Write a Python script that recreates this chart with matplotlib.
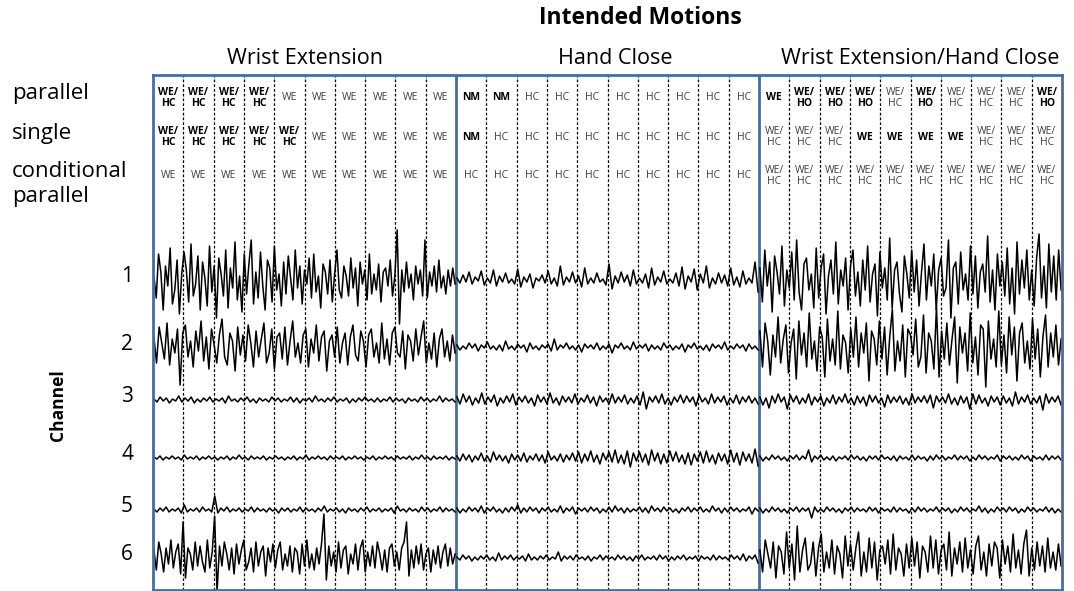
import numpy as np
import matplotlib.pyplot as plt

plt.rcParams["font.family"] = ["Open Sans", "DejaVu Sans"]

# Intended motion for each block of 10 windows
MOTIONS = ["WE", "HC", "WE/HC"]
MOTION_TITLES = ["Wrist Extension", "Hand Close", "Wrist Extension/Hand Close"]

# Decisions of each classifier, one per window (30 windows)
PARALLEL = ["WE/HC", "WE/HC", "WE/HC", "WE/HC", "WE", "WE", "WE", "WE", "WE", "WE",
            "NM", "NM", "HC", "HC", "HC", "HC", "HC", "HC", "HC", "HC",
            "WE", "WE/HO", "WE/HO", "WE/HO", "WE/HC", "WE/HO", "WE/HC", "WE/HC", "WE/HC", "WE/HO"]
SINGLE = ["WE/HC", "WE/HC", "WE/HC", "WE/HC", "WE/HC", "WE", "WE", "WE", "WE", "WE",
          "NM", "HC", "HC", "HC", "HC", "HC", "HC", "HC", "HC", "HC",
          "WE/HC", "WE/HC", "WE/HC", "WE", "WE", "WE", "WE", "WE/HC", "WE/HC", "WE/HC"]
COND_PARALLEL = ["WE", "WE", "WE", "WE", "WE", "WE", "WE", "WE", "WE", "WE",
                 "HC", "HC", "HC", "HC", "HC", "HC", "HC", "HC", "HC", "HC",
                 "WE/HC", "WE/HC", "WE/HC", "WE/HC", "WE/HC", "WE/HC", "WE/HC", "WE/HC", "WE/HC", "WE/HC"]
CLASSIFIERS = ["parallel", "single", "conditional\nparallel"]

# EMG traces (arbitrary units), one list per channel and motion
CH1_WE = [4, -18, 26, 8, -30, 14, -6, 32, -24, -10, 20, -34, 6, 28, 10, -22, 36, -16, -4, 24, -30, 18, 2, -26, 34,
          -12, 14, -38, 22, 6, -16, 30, -28, 12, -8, 38, -20, 4, -32, 26, -14, 16, 40, -24, 8, -18, 28, -6, -30, 20,
          12, -22, 34, -10, 6, -26, 18, -14, 24, 2, -20, 30, -8, 14, -24, 10, -4, 22, -18, 26, -12, 4, -28, 16, 8,
          -14, 20, -22, 6, 30, -10, -18, 14, 4, -16, 22, -8, 12, -26, 18, -4, 10, -20, 26, -14, 6, -10, 16, -22, 8,
          12, -6, 20, -16, 4, 50, -44, 10, -12, 18, -8, 6, -20, 14, -4, 10, -16, 40, -18, 8, -6, 14, -12, 20, -8,
          4, -14, 10, -6, 12, -4]
CH1_HC = [2, -3, 5, -2, 8, -4, 3, -1, 9, -5, 2, -3, 10, -6, 4, -2, 7, -3, 1, -4, 11, -7, 3, -2, 6, -8, 2, -1, 5, -3,
          9, -4, 2, -6, 14, -5, 3, -2, 8, -3, 4, -7, 12, -4, 2, -3, 7, -2, 1, -5, 16, -9, 4, -3, 8, -2, 5, -6, 10, -4,
          2, -3, 6, -8, 12, -5, 3, -2, 9, -4, 1, -3, 7, -6, 13, -9, 4, -2, 11, -10, 6, -3, 14, -8, 2, -4, 7, -3, 5, -6,
          12, -5, 3, -7, 9, -4, 2, -3, 18, -12]
CH1_WEHC = [12, -22, 30, -6, 18, -32, 24, 8, -14, 34, -26, 10, -8, 28, -20, 40, -12, -30, 16, 22, -10, 6, -28, 32, -18,
            12, 26, -34, 4, 20, -14, 38, -24, 10, -6, 22, -30, 14, 30, -16, 8, -26, 20, -10, 34, -22, 6, 16, -36, 28,
            -8, 12, -20, 42, -28, 10, 18, -14, -32, 24, 6, -18, 30, -12, 20, -26, 8, 36, -20, 14, -6, 26, -30, 10, 22,
            -16, -8, 40, -38, 12, 18, -24, 28, -10, 6, -20, 34, -14, 24, -28, 8, 16, -12, 44, -22, 10, -30, 26, -6, 18,
            -16, 32, -24, 12, -34, 38, -14, 20, -8, 30, -20, 10, -26, 22, 46, -18, 14, -28, 36, -12, 24, -20, 30, -10]
CH2_WE = [10, -16, 20, 4, -12, 24, -18, 8, -6, 18, -38, 14, 22, -10, 6, -20, 16, -4, 26, -14, 10, -22, 18, 2, -16,
          12, 28, -10, -18, 14, 6, -24, 20, -8, 12, -14, 22, 4, -20, 16, -10, 8, 24, -16, -6, 18, -22, 10, 14, -12,
          20, -18, 6, 26, -10, 4, -16, 12, 18, -20, 8, -6, 22, -14, 10, 16, -24, 6, 12, -10, 20, -16, 4, 14, -18,
          10, 22, -8, -14, 16, 6, -20, 12, 18, -10, 4, -16, 24, -12, 8, -18, 14, 20, -6, -10, 16, -22, 12, 6, -14,
          18, -8, 10, 26, -16, 4, -12, 14, -20, 8, 18, -10, 6, -14, 12, -6]
CH2_HC = [2, -3, 1, -2, 4, -1, 3, -4, 2, -1, 5, -2, 1, -3, 2, -4, 6, -2, 1, -3, 3, -1, 2, -5, 4, -2, 1, -3, 2, -1,
          3, -4, 8, -3, 2, -1, 4, -2, 1, -3, 2, -5, 3, -1, 2, -2, 4, -3, 1, -2, 3, -6, 2, -1, 4, -2, 1, -3, 5, -2,
          2, -1, 3, -4, 2, -2, 1, -3, 4, -1, 2, -3, 1, -2, 3, -5, 2, -1, 4, -2, 1, -3, 2, -4, 3, -1, 2, -2, 5, -3,
          1, -2, 3, -1, 2, -4, 3, -2, 1, -3]
CH2_WEHC = [16, -20, 24, 6, -28, 12, -10, 30, -16, 8, 22, -26, 4, 18, -32, 26, -8, 14, -20, 34, -12, 6, -24, 20, 10,
            -30, 28, -14, 8, -18, 36, -22, 12, 4, -26, 18, -10, 30, -20, 14, -6, 24, -34, 16, 8, -18, 26, -12, 20, -28,
            10, 38, -24, 6, -14, 22, -30, 18, 12, -8, 28, -20, -10, 32, -26, 14, 6, -22, 40, -30, 16, -12, 24, -18, 8,
            30, -36, 20, -6, 14, -24, 34, -16, 10, -28, 22, 18, -40, 26, -12, 8, -20, 36, -18, 12, -26, 30, -8, 20, -34,
            14, 24, -16, 6, -22, 28, -12, 18, -30, 10, 32, -20, 14, -10, 22, -18, 8]
CH3_WE = [1, -2, 3, -1, 2, -3, 1, -1, 4, -2, 2, -1, 3, -3, 1, -2, 2, -1, 3, -2, 1, -1, 2, -3, 4, -1, 1, -2, 2, -1,
          3, -2, 1, -3, 2, -1, 1, -2, 3, -1, 2, -2, 1, -1, 3, -2, 2, -3, 1, -1, 2, -2, 4, -1, 1, -2, 2, -1, 3, -2,
          1, -1, 2, -3, 1, -2, 2, -1, 3, -1, 1, -2, 2, -2, 1, -1, 3, -2, 2, -1, 1, -3, 2, -1, 1, -2, 3, -1, 2, -2,
          1, -1, 4, -2, 2, -1, 1, -2]
CH3_HC = [3, -4, 6, -2, 4, -5, 2, -3, 7, -4, 3, -2, 5, -6, 2, -3, 4, -2, 6, -5, 3, -2, 4, -3, 2, -6, 5, -2, 3, -4,
          7, -3, 2, -5, 4, -2, 3, -3, 6, -4, 2, -2, 5, -3, 3, -6, 4, -2, 2, -4, 6, -3, 3, -2, 5, -4, 2, -3, 4, -5,
          8, -9, 3, -2, 4, -3, 6, -4, 2, -5, 3, -2, 5, -3, 4, -2, 3, -6, 5, -2, 2, -4, 6, -3, 3, -2, 4, -5, 2, -3,
          5, -4, 3, -2, 4, -3, 2, -4]
CH3_WEHC = [3, -5, 2, -8, 4, -3, 6, -2, 3, -9, 5, -2, 4, -4, 2, -3, 6, -5, 3, -2, 4, -6, 2, -3, 5, -4, 3, -2, 6, -3,
            2, -5, 4, -3, 3, -6, 5, -2, 4, -3, 2, -7, 5, -3, 3, -2, 4, -4, 2, -5, 6, -3, 3, -2, 4, -3, 5, -8, 4, -2,
            3, -3, 6, -4, 2, -5, 4, -3, 3, -9, 6, -4, 5, -3, 2, -6, 4, -2, 3, -5, 4, -3, 2, -6, 8, -4, 3, -2, 5, -4,
            2, -3, 4, -10, 6, -3, 3, -2, 4, -5]
CH4_WE = [1, -1, 2, -2, 1, -1, 2, -1, 1, -2, 3, -1, 1, -1, 2, -2, 1, -1, 2, -1, 1, -2, 1, -1, 2, -2, 1, -1, 3, -1,
          1, -2, 2, -1, 1, -1, 2, -2, 1, -1, 2, -1, 1, -2, 1, -1, 2, -2, 1, -1, 3, -2, 1, -1, 2, -1, 1, -2, 2, -1,
          1, -1, 2, -2, 1, -1, 2, -1, 1, -2, 1, -1, 2, -2, 1, -1, 2, -1, 1, -2, 2, -1, 1, -1, 2, -2, 1, -1, 3, -1,
          1, -2, 2, -1, 1, -1, 2, -2, 1, -1]
CH4_HC = [2, -3, 4, -2, 3, -4, 2, -2, 5, -3, 2, -4, 6, -2, 3, -3, 2, -5, 4, -2, 3, -3, 5, -4, 2, -2, 4, -3, 3, -5,
          6, -2, 2, -3, 4, -4, 3, -2, 5, -3, 6, -5, 4, -3, 7, -4, 3, -6, 5, -2, 6, -4, 8, -5, 3, -6, 7, -9, 5, -3,
          6, -4, 4, -7, 8, -3, 5, -6, 4, -5, 7, -3, 6, -4, 3, -6, 5, -7, 4, -3, 6, -5, 7, -4, 3, -6, 5, -3, 4, -6,
          8, -4, 5, -7, 6, -3, 4, -5, 9, -8]
CH4_WEHC = [2, -3, 1, -2, 3, -1, 2, -2, 1, -3, 2, -1, 3, -2, 2, -1, 8, -4, 2, -1, 3, -2, 1, -2, 2, -3, 1, -1, 2, -2,
            3, -1, 2, -2, 1, -3, 2, -1, 2, -2, 3, -1, 1, -2, 2, -3, 2, -1, 1, -2, 3, -2, 2, -1, 1, -3, 2, -2, 3, -1,
            2, -2, 1, -1, 3, -2, 2, -1, 2, -3, 1, -2, 3, -1, 2, -2, 1, -1, 3, -3, 2, -1, 2, -2, 1, -2, 3, -1, 2, -3,
            2, -1, 1, -2, 3, -2, 2, -1, 2, -2]
CH5_WE = [1, -2, 2, -1, 3, -2, 1, -1, 2, -3, 5, -2, 1, -1, 2, -2, 3, -1, 1, -2, 14, -3, 2, -1, 3, -2, 1, -1, 2, -2,
          1, -1, 3, -2, 2, -1, 1, -2, 2, -1, 1, -3, 2, -1, 2, -2, 1, -1, 3, -2, 2, -1, 1, -2, 2, -1, 4, -2, 1, -1,
          2, -2, 1, -3, 2, -1, 1, -2, 2, -1, 3, -2, 1, -1, 2, -2, 1, -1, 2, -3, 4, -1, 1, -2, 2, -1, 1, -2, 3, -1,
          2, -2, 1, -1, 3, -2, 2, -1, 1, -2]
CH5_HC = [2, -3, 1, -2, 3, -1, 2, -2, 4, -3, 2, -1, 3, -2, 1, -3, 2, -2, 3, -1, 5, -3, 2, -2, 3, -1, 2, -3, 2, -1,
          3, -2, 1, -2, 4, -3, 2, -1, 3, -4, 2, -1, 2, -2, 3, -1, 2, -3, 1, -2, 3, -2, 4, -1, 2, -3, 2, -2, 1, -1,
          3, -2, 2, -3, 4, -1, 2, -2, 3, -1, 2, -2, 1, -3, 2, -1, 3, -2, 2, -1, 3, -2, 1, -2, 4, -1, 2, -3, 2, -2,
          3, -1, 2, -2, 1, -1, 3, -4, 2, -1]
CH5_WEHC = [2, -3, 1, -2, 3, -1, 2, -2, 1, -3, 2, -1, 3, -2, 2, -1, 2, -8, 3, -2, 1, -2, 3, -1, 2, -2, 1, -3, 2, -1,
            3, -2, 2, -1, 1, -2, 3, -1, 2, -3, 2, -1, 1, -2, 3, -2, 2, -1, 1, -3, 2, -2, 3, -1, 2, -2, 1, -1, 3, -2,
            2, -1, 2, -3, 1, -2, 3, -1, 2, -2, 1, -1, 4, -2, 2, -3, 1, -2, 3, -1, 2, -2, 3, -1, 2, -3, 1, -2, 3, -1,
            2, -2, 1, -1, 3, -2, 2, -3, 1, -2]
CH6_WE = [8, -12, 16, 4, -14, 10, -6, 18, -10, 6, 14, -16, 36, -20, 10, 4, -12, 16, -8, 12, -4, -14, 18, -10, 6,
          42, -34, 12, -8, 16, 4, -12, 10, -16, 14, -6, 8, 18, -12, -4, 10, -14, 16, -8, 6, 12, -18, 10, -4, 14,
          -10, 8, 16, -12, 4, -8, 12, -14, 10, 6, -16, 14, -8, 18, -10, 4, -12, 10, -6, 14, 44, -22, 12, -8, 6,
          -14, 16, -10, 8, 12, -16, 4, -6, 14, -12, 10, 18, -14, 6, -8, 12, -10, 16, 4, -12, 8, -14, 10, 14, -8,
          6, -12, 10, 16, 36, -18, 8, -10, 12, -6, 14, -12, 4, 10, -14, 8, -6, 12, -10, 6, 14, -8, 10, -6, 4]
CH6_HC = [1, -2, 3, -1, 2, -3, 1, -2, 2, -1, 3, -2, 1, -3, 5, -2, 2, -1, 3, -2, 1, -1, 2, -3, 4, -2, 1, -2, 2, -1,
          3, -2, 1, -1, 6, -3, 2, -1, 2, -2, 3, -1, 1, -2, 2, -3, 1, -1, 3, -2, 2, -1, 1, -2, 3, -1, 2, -2, 1, -3,
          2, -1, 3, -2, 1, -1, 2, -2, 3, -1, 2, -3, 1, -2, 2, -1, 3, -2, 1, -1, 2, -3, 2, -1, 1, -2, 3, -2, 2, -1,
          1, -2, 3, -1, 2, -2, 4, -3, 2, -1, 3, -5]
CH6_WEHC = [8, -14, 18, 4, -10, 16, -20, 12, 6, -16, 26, -10, 14, -22, 32, -14, 8, 20, -12, -6, 16, -18, 10, 24, -14,
            6, -10, 18, -16, 12, 4, -20, 22, -8, 14, -12, 10, 26, -18, 6, -14, 20, -10, 16, -22, 8, 12, -6, 18, -16,
            24, -12, 10, 4, -18, 14, -10, 20, -8, 16, -20, 12, 6, -14, 22, -10, 18, -16, 8, 14, -12, 26, -18, 10, -6,
            16, -14, 20, -10, 8, -16, 12, 22, -12, 6, -18, 14, -8, 16, 10, -20, 18, -6, 12, -14, 24, -10, 8, -16, 14,
            28, -18, 10, -12, 16, -8, 12, -14, 20, -10, 6, -12, 14, -8]

CHANNELS = [
    [CH1_WE, CH1_HC, CH1_WEHC],
    [CH2_WE, CH2_HC, CH2_WEHC],
    [CH3_WE, CH3_HC, CH3_WEHC],
    [CH4_WE, CH4_HC, CH4_WEHC],
    [CH5_WE, CH5_HC, CH5_WEHC],
    [CH6_WE, CH6_HC, CH6_WEHC],
]

# Layout in figure pixels
W, H = 1074, 591
BOX_L, BOX_R, BOX_T, BOX_B = 153, 1062, 75, 590
ROW_Y = [98, 137, 176]
ROW_LABEL_Y = [94, 133, 184]
TITLE_X = [305, 615, 920]
CHANNEL_Y = [280, 347, 400, 458, 510, 558]
BOX_COLOUR = "#4a6d96"


def fx(x):
    return x / W


def fy(y):
    return 1 - y / H


fig = plt.figure(figsize=(W / 100, H / 100), dpi=100)
ax = fig.add_axes([fx(BOX_L), fy(BOX_B), fx(BOX_R - BOX_L), (BOX_B - BOX_T) / H])
ax.set_xlim(0, 30)
ax.set_ylim(BOX_B, BOX_T)
ax.set_xticks([])
ax.set_yticks([])
for spine in ax.spines.values():
    spine.set_color(BOX_COLOUR)
    spine.set_linewidth(2)

# Window separators
for i in range(1, 30):
    if i % 10 == 0:
        ax.axvline(i, color=BOX_COLOUR, lw=2)
    else:
        ax.axvline(i, color="black", lw=0.9, linestyle=(0, (2.2, 1.6)))

# Classifier decisions, errors in bold
for r, decisions in enumerate([PARALLEL, SINGLE, COND_PARALLEL]):
    for i, label in enumerate(decisions):
        wrong = label != MOTIONS[i // 10]
        ax.text(i + 0.5, ROW_Y[r], label.replace("/", "/\n"),
                ha="center", va="center", fontsize=7.5, linespacing=0.95,
                fontweight="bold" if wrong else "normal",
                color="black" if wrong else "#3c3c46")

# EMG traces
for c, segments in enumerate(CHANNELS):
    for k, values in enumerate(segments):
        x = np.linspace(k * 10 + 0.03, k * 10 + 9.97, len(values))
        ax.plot(x, CHANNEL_Y[c] - np.array(values), color="black", lw=1.1)

# Titles and labels
fig.text(fx(640), fy(18), "Intended Motions", ha="center", va="center",
         fontsize=16.5, fontweight="bold")
for k, title in enumerate(MOTION_TITLES):
    fig.text(fx(TITLE_X[k]), fy(58), title, ha="center", va="center", fontsize=15.5)
for r, name in enumerate(CLASSIFIERS):
    fig.text(fx(12), fy(ROW_LABEL_Y[r]), name, ha="left", va="center",
             fontsize=16, linespacing=1.2)
for c, y in enumerate(CHANNEL_Y):
    fig.text(fx(127), fy(y - 3), str(c + 1), ha="center", va="center", fontsize=15)
fig.text(fx(58), fy(405), "Channel", ha="center", va="center", rotation=90,
         fontsize=12.5, fontweight="bold")

fig.savefig("out.png", dpi=100, facecolor="white")
